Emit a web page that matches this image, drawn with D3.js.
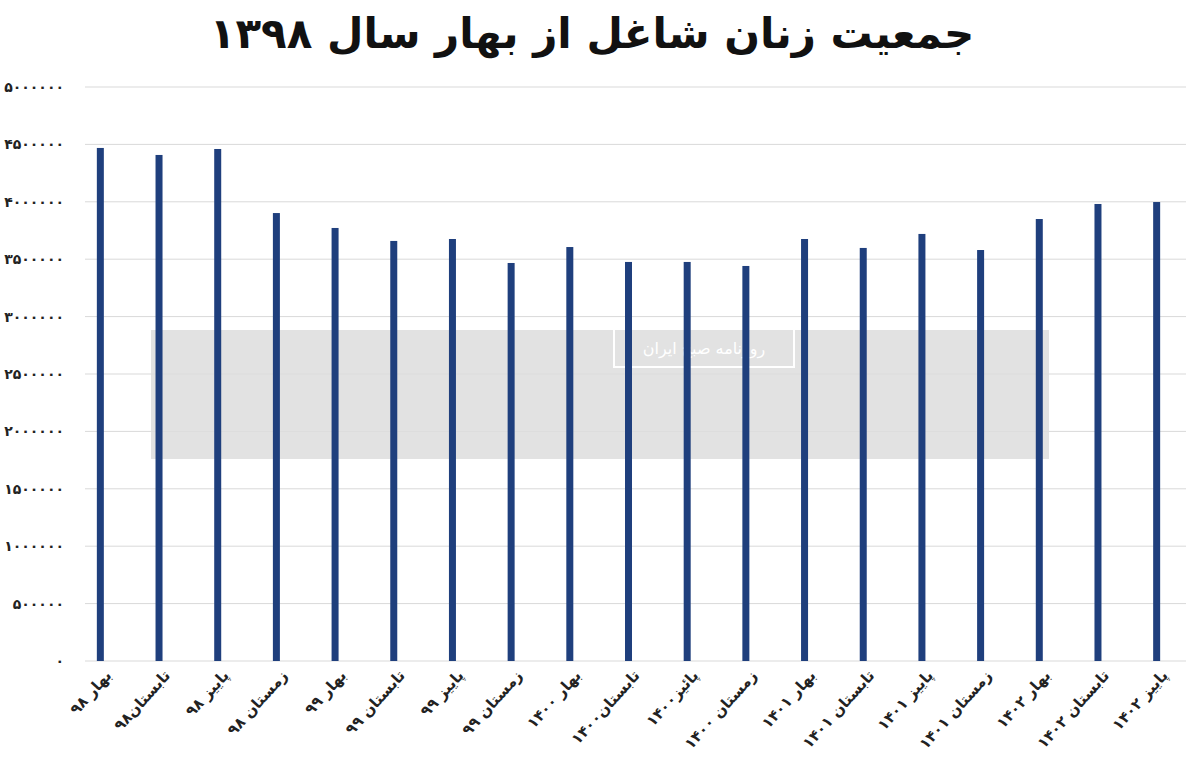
<!DOCTYPE html>
<html lang="fa">
<head>
<meta charset="UTF-8" />
<script src="https://d3js.org/d3.v7.min.js"></script>
<style>
  body { margin: 0; background: #fff; }
  text { font-family: "DejaVu Sans", "Noto Sans", sans-serif; }
</style>
</head>
<body>
<svg width="1200" height="784"></svg>
<script>
const categories = ["بهار ۹۸", "تابستان۹۸", "پاییز ۹۸", "زمستان ۹۸", "بهار ۹۹", "تابستان ۹۹", "پاییز ۹۹", "زمستان ۹۹", "بهار ۱۴۰۰", "تابستان۱۴۰۰", "پائیز۱۴۰۰", "زمستان ۱۴۰۰", "بهار ۱۴۰۱", "تابستان ۱۴۰۱", "پاییز ۱۴۰۱", "زمستان ۱۴۰۱", "بهار ۱۴۰۲", "تابستان ۱۴۰۲", "پاییز ۱۴۰۲"];
const values = [4469000, 4408000, 4460000, 3902000, 3772000, 3659000, 3676000, 3467000, 3606000, 3476000, 3476000, 3441000, 3676000, 3598000, 3720000, 3580000, 3850000, 3981000, 3998000];
const yTicks = [0, 500000, 1000000, 1500000, 2000000, 2500000, 3000000, 3500000, 4000000, 4500000, 5000000];
const title = "جمعیت زنان شاغل از بهار سال ۱۳۹۸";

const fa = n => String(n).replace(/\d/g, d => "۰۱۲۳۴۵۶۷۸۹"[d]);

const svg = d3.select("svg");
const M = { LEFT: 71, RIGHT: 1186, TOP: 87, BOTTOM: 661 };

const X = d3.scaleBand().domain(categories).range([M.LEFT, M.RIGHT]);
const Y = d3.scaleLinear().domain([0, 5000000]).range([M.BOTTOM, M.TOP]);

svg.append("text").attr("x", 592).attr("y", 48).attr("text-anchor", "middle")
  .attr("font-size", 42).attr("font-weight", 900).attr("fill", "#111").text(title);

// grid
svg.append("g").selectAll("line").data(yTicks).join("line")
  .attr("x1", M.LEFT + 14).attr("x2", M.RIGHT).attr("y1", d => Y(d)).attr("y2", d => Y(d))
  .attr("stroke", "#d9d9d9").attr("stroke-width", 1);

svg.append("g").selectAll("text").data(yTicks).join("text")
  .attr("x", 64).attr("y", d => Y(d) + 5).attr("text-anchor", "end")
  .attr("font-size", 14).attr("font-weight", 700).attr("fill", "#222")
  .text(d => fa(d));

// watermark
svg.append("rect").attr("x", 151).attr("y", 330).attr("width", 898).attr("height", 129)
  .attr("fill", "#ddd").attr("opacity", 0.85);
svg.append("rect").attr("x", 614).attr("y", 329).attr("width", 180).attr("height", 38)
  .attr("fill", "none").attr("stroke", "#fff").attr("stroke-width", 2);
svg.append("text").attr("x", 704).attr("y", 354).attr("text-anchor", "middle")
  .attr("font-size", 16).attr("fill", "#fff").text("روزنامه صبح ایران");

// bars
svg.append("g").selectAll("rect").data(values).join("rect")
  .attr("x", (d, i) => X(categories[i]) + X.bandwidth() / 2 - 3.5)
  .attr("width", 7)
  .attr("y", d => Y(d))
  .attr("height", d => M.BOTTOM - Y(d))
  .attr("fill", "#1f3f7d");

// x labels
svg.append("g").selectAll("text").data(categories).join("text")
  .attr("transform", d => `translate(${X(d) + X.bandwidth() / 2 + 12},${676}) rotate(-48)`)
  .attr("text-anchor", "end")
  .attr("font-size", 15).attr("font-weight", 700).attr("fill", "#222")
  .text(d => d);
</script>
</body>
</html>
